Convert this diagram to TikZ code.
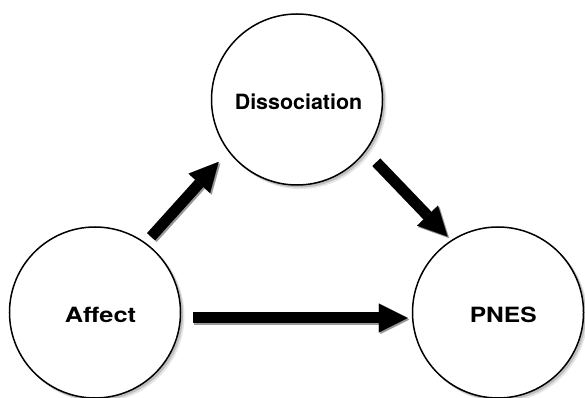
\documentclass[tikz,border=0pt]{standalone}
\usepackage{fontspec}
\setmainfont{TeX Gyre Heros}
\usetikzlibrary{arrows.meta,calc}
\begin{document}
\begin{tikzpicture}[x=1pt,y=1pt,
  bub/.style={circle, draw=black, line width=1.5pt, fill=white, minimum size=171pt, inner sep=0pt,
    font=\fontsize{21}{24}\selectfont\bfseries, text height=20pt, text depth=0pt},
  shad/.style={circle, fill=#1, draw=none, minimum size=172pt, inner sep=0pt},
  bigarrow/.style={line width=11pt, -{Triangle[length=29pt,width=29pt,line width=0.1pt]}},
  arrshad/.style={bigarrow, draw=black!40, transform canvas={shift={(1.6pt,-1.6pt)}}},
]
\useasboundingbox (0,0) rectangle (585,398);
% circle shadows
\foreach \cx/\cy in {95/85.5, 297/298.5, 498/85.5}{
  \node[shad=black!10] at (\cx+3.5,\cy-3.5) {};
  \node[shad=black!25] at (\cx+2,\cy-2) {};
}
% nodes
\node[bub] (affect) at (95,85.5) {\hspace*{11pt}\scalebox{1.21}[1]{Affect}};
\node[bub] (diss) at (297,298.5) {\hspace*{3pt}\scalebox{1.02}[1]{Dissociation}};
\node[bub] (pnes) at (498,85.5) {\hspace*{10.5pt}\scalebox{1.17}[1]{PNES}};
% arrow shadows
\draw[arrshad, shorten <=8pt, shorten >=14pt] (affect.54.3) -- (diss.217.2);
\draw[arrshad, shorten <=15pt, shorten >=5pt] (diss.323.2) -- (pnes.123.8);
\draw[arrshad, shorten <=11.5pt, shorten >=4pt] ([yshift=-5.5pt]affect.east) -- ([yshift=-5.5pt]pnes.west);
% arrows
\draw[bigarrow, shorten <=8pt, shorten >=14pt] (affect.54.3) -- (diss.217.2);
\draw[bigarrow, shorten <=15pt, shorten >=5pt] (diss.323.2) -- (pnes.123.8);
\draw[bigarrow, shorten <=11.5pt, shorten >=4pt] ([yshift=-5.5pt]affect.east) -- ([yshift=-5.5pt]pnes.west);
\end{tikzpicture}
\end{document}
